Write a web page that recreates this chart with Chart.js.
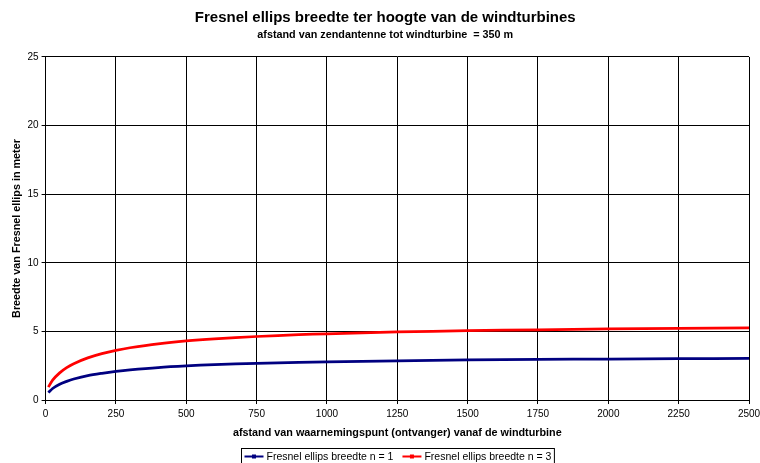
<!DOCTYPE html>
<html>
<head>
<meta charset="utf-8">
<script src="https://cdn.jsdelivr.net/npm/chart.js@4/dist/chart.umd.min.js"></script>
<style>
  html, body { margin: 0; padding: 0; background: #fff; }
  #wrap { width: 760px; height: 463px; }
</style>
</head>
<body>
<div id="wrap"><canvas id="chart"></canvas></div>
<script>
// Afstand ontvanger - windturbine (m)
const afstand = [10, 25, 50, 75, 100, 150, 200, 250, 300, 400, 500, 600, 750, 900,
  1000, 1250, 1500, 1750, 2000, 2250, 2500];
// Breedte Fresnel ellips (m), n = 1
const breedteN1 = [0.54, 0.84, 1.15, 1.36, 1.53, 1.78, 1.95, 2.09, 2.20, 2.37, 2.49,
  2.58, 2.68, 2.75, 2.79, 2.86, 2.92, 2.96, 2.99, 3.01, 3.04];
// Breedte Fresnel ellips (m), n = 3
const breedteN3 = [0.94, 1.45, 1.98, 2.36, 2.65, 3.07, 3.38, 3.62, 3.81, 4.10, 4.31,
  4.46, 4.63, 4.76, 4.83, 4.96, 5.05, 5.12, 5.18, 5.22, 5.26];

const FONT = "'Liberation Sans', Arial, sans-serif";

const series = [
  {label: 'Fresnel ellips breedte n = 1', data: breedteN1, color: '#000080'},
  {label: 'Fresnel ellips breedte n = 3', data: breedteN3, color: '#ff0000'},
];

// Excel-achtige legenda: kader met lijnstukje + marker per reeks,
// gecentreerd onder het plotgebied
const boxLegend = {
  id: 'boxLegend',
  afterDraw(chart) {
    const ctx = chart.ctx;
    const area = chart.chartArea;
    ctx.save();
    ctx.font = '10.5px ' + FONT;
    const sample = 19, gap = 3, spacing = 9, padX = 3;
    let total = padX * 2;
    series.forEach((s, i) => {
      total += sample + gap + ctx.measureText(s.label).width + (i ? spacing : 0);
    });
    const left = Math.round((area.left + area.right) / 2 - total / 2) + 0.5;
    const top = 448.5;
    ctx.strokeStyle = '#000';
    ctx.lineWidth = 1;
    ctx.strokeRect(left, top, total, 22);
    let x = left + padX;
    const y = top + 8;
    series.forEach((s, i) => {
      if (i) x += spacing;
      ctx.strokeStyle = s.color;
      ctx.lineWidth = 2;
      ctx.beginPath();
      ctx.moveTo(x, y);
      ctx.lineTo(x + sample, y);
      ctx.stroke();
      ctx.fillStyle = s.color;
      ctx.fillRect(x + sample / 2 - 2, y - 2, 4, 4);
      x += sample + gap;
      ctx.fillStyle = '#000';
      ctx.textBaseline = 'middle';
      ctx.fillText(s.label, x, y + 0.5);
      x += ctx.measureText(s.label).width;
    });
    ctx.restore();
  },
};

new Chart(document.getElementById('chart'), {
  type: 'line',
  data: {
    datasets: series.map((s) => ({
      label: s.label,
      data: afstand.map((d, i) => ({x: d, y: s.data[i]})),
      borderColor: s.color,
      backgroundColor: s.color,
      borderWidth: 2.75,
      pointRadius: 0,
      tension: 0.3,
      fill: false,
    })),
  },
  options: {
    responsive: true,
    maintainAspectRatio: false,
    animation: false,
    layout: {padding: {left: 10.5, right: 0, top: 2, bottom: 23}},
    plugins: {
      legend: {display: false},
      tooltip: {enabled: false},
      title: {
        display: true,
        text: 'Fresnel ellips breedte ter hoogte van de windturbines',
        color: '#000',
        font: {family: FONT, size: 15, weight: 'bold'},
        padding: {top: 7, bottom: 2},
      },
      subtitle: {
        display: true,
        text: 'afstand van zendantenne tot windturbine  = 350 m',
        color: '#000',
        font: {family: FONT, size: 10.8, weight: 'bold'},
        padding: {top: 0, bottom: 15},
      },
    },
    scales: {
      x: {
        type: 'linear',
        min: 0,
        max: 2500,
        // laat "2500" tot aan de rand lopen
        afterFit: (scale) => { scale.paddingRight = 11; },
        ticks: {
          stepSize: 250,
          color: '#000',
          font: {family: FONT, size: 10},
          padding: 4,
          maxRotation: 0,
          callback: (v) => String(v),
        },
        grid: {color: '#000', lineWidth: 1, tickLength: 4},
        border: {color: '#000'},
        title: {
          display: true,
          text: 'afstand van waarnemingspunt (ontvanger) vanaf de windturbine',
          color: '#000',
          font: {family: FONT, size: 10.8, weight: 'bold'},
          padding: {top: 3, bottom: 0},
        },
      },
      y: {
        min: 0,
        max: 25,
        ticks: {
          stepSize: 5,
          color: '#000',
          font: {family: FONT, size: 10},
          padding: 3,
          callback: (v) => String(v),
        },
        grid: {color: '#000', lineWidth: 1, tickLength: 4},
        border: {color: '#000'},
        title: {
          display: true,
          text: 'Breedte van Fresnel ellips in meter',
          color: '#000',
          font: {family: FONT, size: 10.8, weight: 'bold'},
          padding: {top: 0, bottom: 1},
        },
      },
    },
  },
  plugins: [boxLegend],
});
</script>
</body>
</html>
